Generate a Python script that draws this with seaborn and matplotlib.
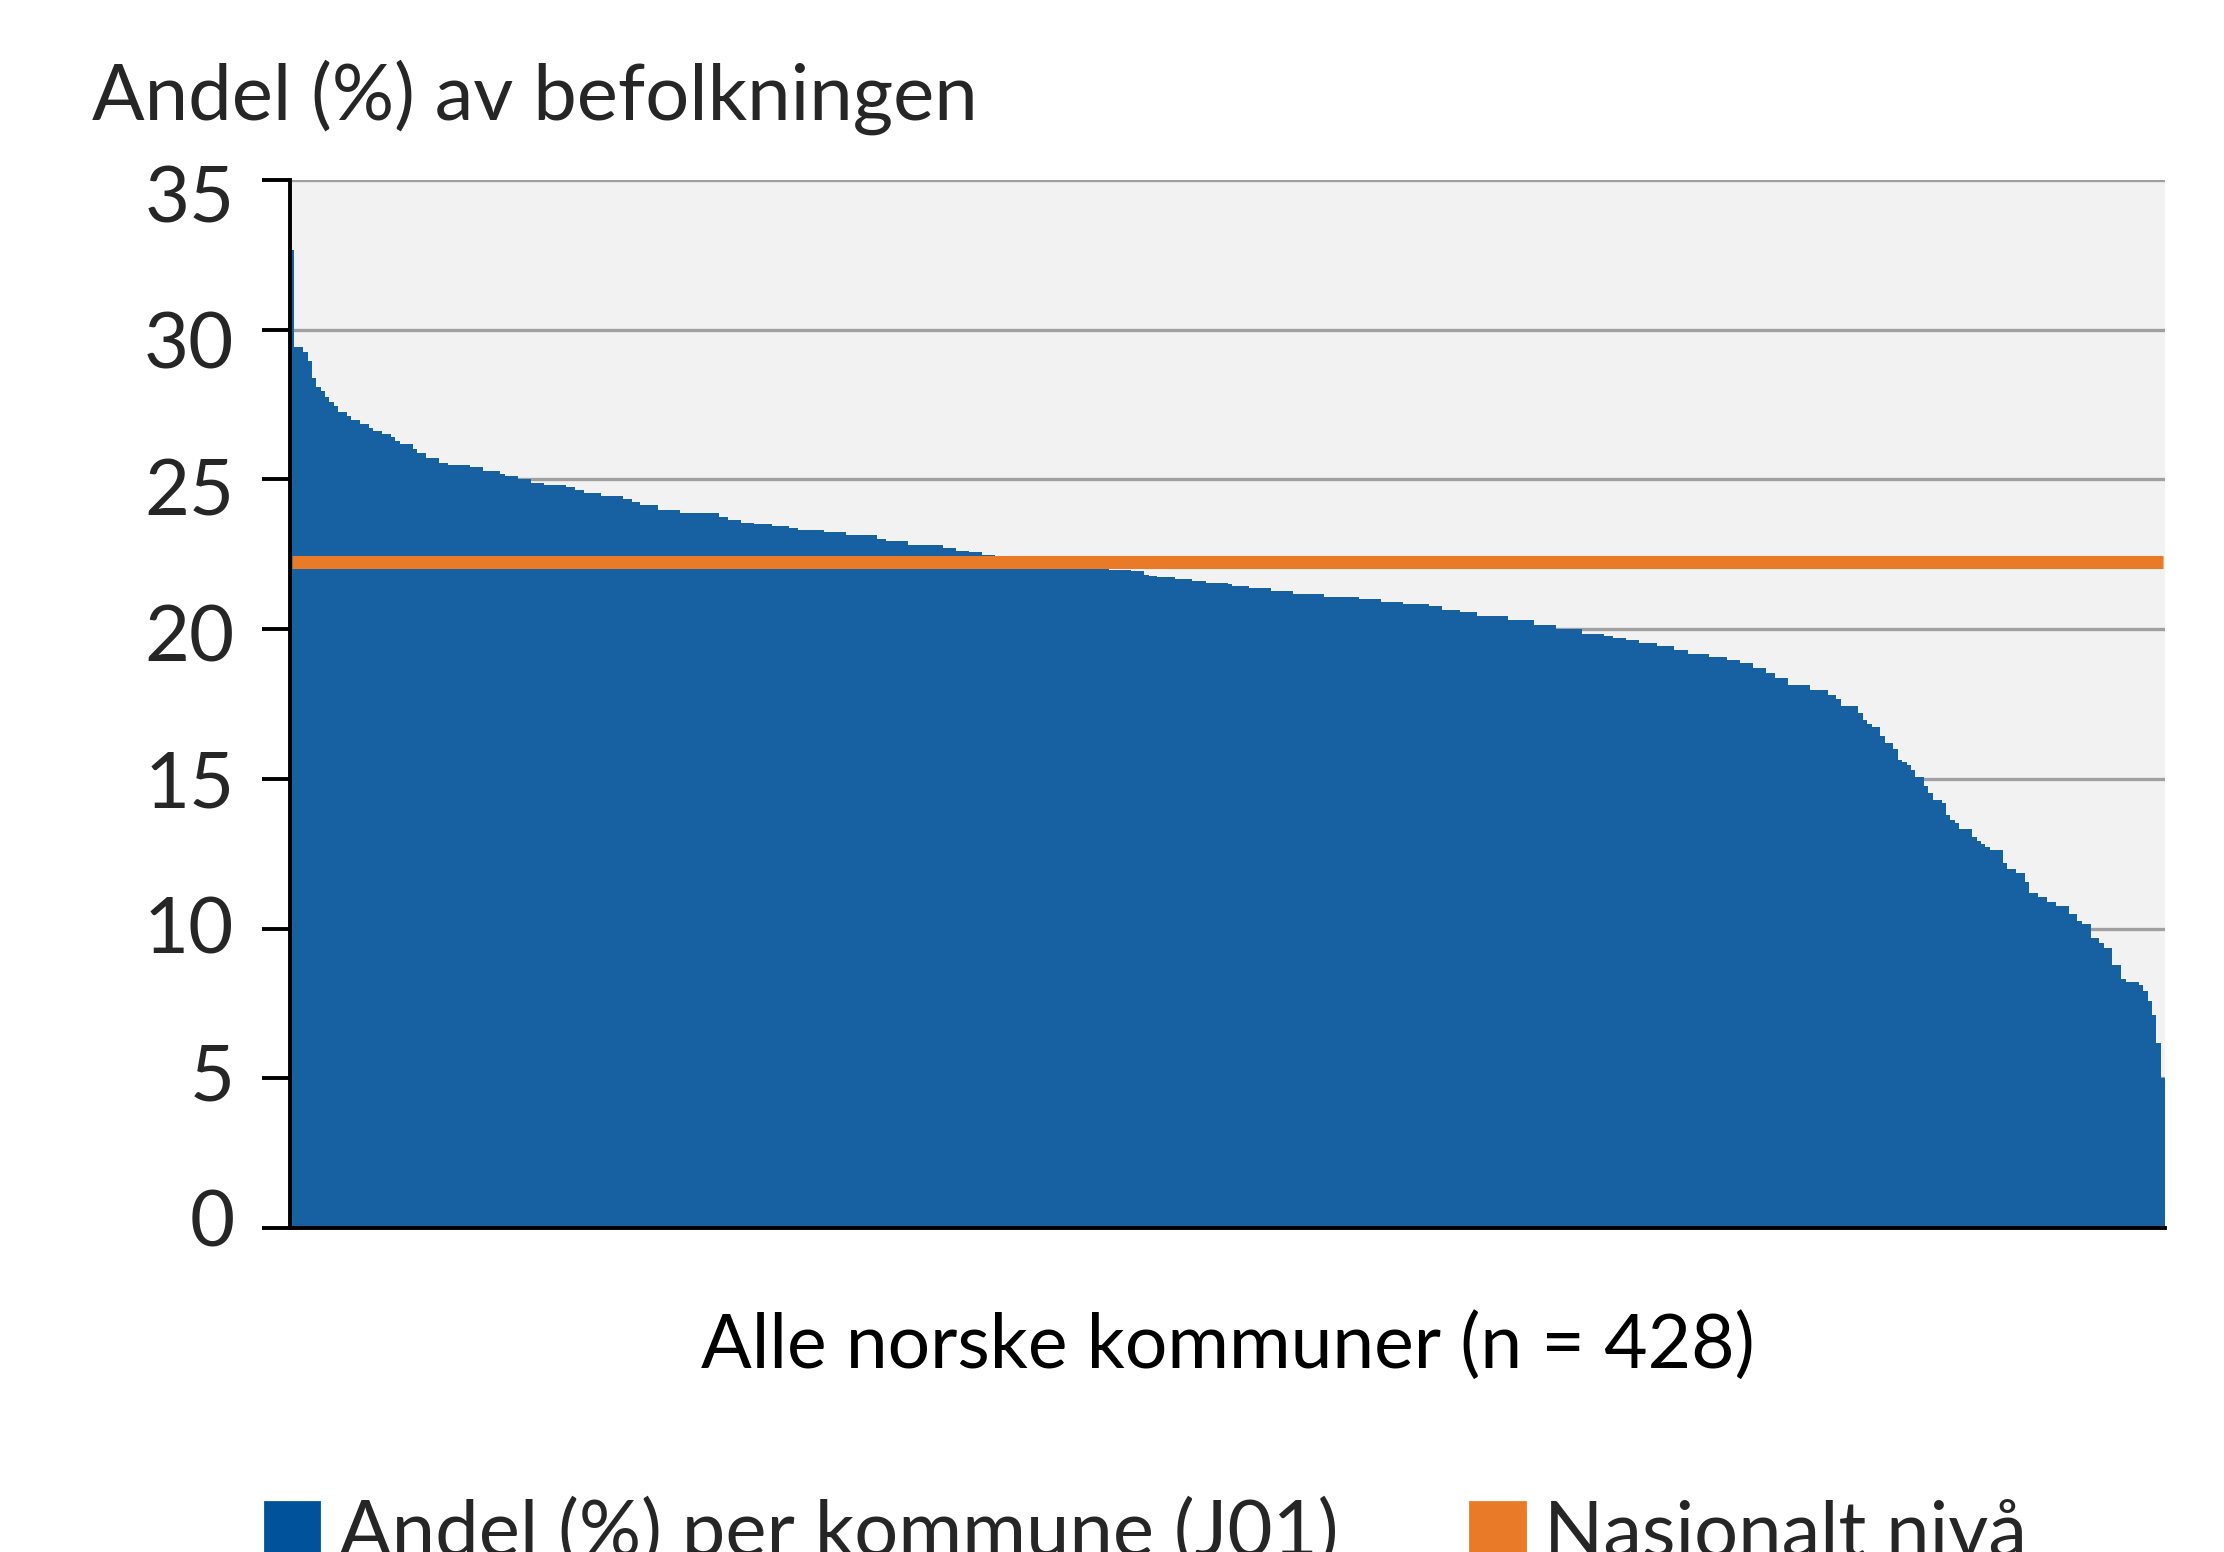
import numpy as np
import pandas as pd
import matplotlib.pyplot as plt
import seaborn as sns
from matplotlib.patches import Patch
from matplotlib.transforms import ScaledTranslation

# Andel (%) per kommune, sortert synkende (lest av figuren)
andel = [
    32.66, 29.43, 29.43, 29.25, 28.95, 28.40, 28.10, 27.97, 27.76, 27.58,
    27.45, 27.26, 27.26, 27.11, 27.00, 27.00, 26.86, 26.86, 26.72, 26.61,
    26.61, 26.53, 26.53, 26.41, 26.28, 26.19, 26.19, 26.19, 26.02, 25.87,
    25.87, 25.70, 25.70, 25.70, 25.56, 25.56, 25.49, 25.49, 25.49, 25.49,
    25.49, 25.42, 25.42, 25.42, 25.27, 25.27, 25.27, 25.27, 25.19, 25.11,
    25.11, 25.11, 25.00, 25.00, 25.00, 24.89, 24.89, 24.89, 24.81, 24.81,
    24.81, 24.81, 24.81, 24.74, 24.74, 24.66, 24.66, 24.55, 24.55, 24.55,
    24.55, 24.44, 24.44, 24.44, 24.44, 24.44, 24.35, 24.35, 24.24, 24.24,
    24.16, 24.16, 24.16, 24.16, 23.99, 23.99, 23.99, 23.99, 23.99, 23.88,
    23.88, 23.88, 23.88, 23.88, 23.88, 23.88, 23.88, 23.88, 23.75, 23.75,
    23.63, 23.63, 23.63, 23.55, 23.55, 23.55, 23.50, 23.50, 23.50, 23.50,
    23.46, 23.46, 23.46, 23.46, 23.38, 23.38, 23.31, 23.31, 23.31, 23.31,
    23.31, 23.31, 23.24, 23.24, 23.24, 23.24, 23.24, 23.14, 23.14, 23.14,
    23.14, 23.14, 23.14, 23.14, 23.02, 23.02, 22.93, 22.93, 22.93, 22.93,
    22.93, 22.80, 22.80, 22.80, 22.80, 22.80, 22.80, 22.80, 22.80, 22.71,
    22.71, 22.71, 22.62, 22.62, 22.62, 22.57, 22.57, 22.57, 22.49, 22.49,
    22.49, 22.45, 22.43, 22.41, 22.40, 22.38, 22.36, 22.34, 22.32, 22.31,
    22.29, 22.27, 22.25, 22.24, 22.22, 22.20, 22.19, 22.17, 22.15, 22.14,
    22.12, 22.10, 22.09, 22.07, 22.05, 22.04, 22.02, 21.99, 21.99, 21.99,
    21.99, 21.99, 21.93, 21.93, 21.93, 21.82, 21.79, 21.79, 21.73, 21.73,
    21.73, 21.73, 21.68, 21.68, 21.68, 21.68, 21.60, 21.60, 21.60, 21.54,
    21.54, 21.54, 21.54, 21.54, 21.51, 21.45, 21.45, 21.45, 21.45, 21.38,
    21.38, 21.38, 21.38, 21.38, 21.27, 21.27, 21.27, 21.27, 21.27, 21.18,
    21.18, 21.18, 21.18, 21.18, 21.18, 21.18, 21.06, 21.06, 21.06, 21.06,
    21.06, 21.06, 21.06, 21.06, 20.99, 20.99, 20.99, 20.99, 20.99, 20.90,
    20.90, 20.90, 20.90, 20.90, 20.84, 20.84, 20.84, 20.84, 20.84, 20.84,
    20.76, 20.76, 20.76, 20.64, 20.64, 20.64, 20.64, 20.58, 20.58, 20.58,
    20.58, 20.45, 20.45, 20.45, 20.45, 20.45, 20.45, 20.45, 20.32, 20.32,
    20.32, 20.32, 20.32, 20.32, 20.15, 20.15, 20.15, 20.15, 20.15, 20.01,
    20.01, 20.01, 20.01, 20.01, 20.01, 19.85, 19.85, 19.85, 19.85, 19.85,
    19.78, 19.78, 19.70, 19.70, 19.70, 19.63, 19.63, 19.63, 19.54, 19.54,
    19.54, 19.54, 19.43, 19.43, 19.43, 19.43, 19.29, 19.29, 19.29, 19.18,
    19.18, 19.18, 19.18, 19.18, 19.07, 19.07, 19.07, 19.07, 18.96, 18.96,
    18.96, 18.87, 18.87, 18.87, 18.70, 18.70, 18.70, 18.53, 18.53, 18.37,
    18.37, 18.37, 18.15, 18.15, 18.15, 18.15, 18.15, 17.98, 17.98, 17.98,
    17.98, 17.81, 17.81, 17.67, 17.42, 17.42, 17.42, 17.42, 17.20, 16.98,
    16.84, 16.72, 16.72, 16.42, 16.20, 16.20, 16.00, 15.64, 15.56, 15.45,
    15.28, 15.06, 15.06, 14.75, 14.52, 14.28, 14.28, 14.19, 13.80, 13.61,
    13.54, 13.32, 13.32, 13.32, 13.07, 12.94, 12.83, 12.72, 12.61, 12.61,
    12.61, 12.19, 12.00, 12.00, 11.85, 11.85, 11.54, 11.20, 11.20, 11.05,
    11.05, 10.87, 10.87, 10.76, 10.76, 10.76, 10.48, 10.48, 10.26, 10.16,
    10.16, 9.68, 9.68, 9.53, 9.34, 9.34, 8.79, 8.79, 8.31, 8.20,
    8.20, 8.20, 8.12, 7.93, 7.58, 7.12, 6.17, 5.00,
]
nasjonalt = 22.23
y_ticks = [0, 5, 10, 15, 20, 25, 30, 35]

y_tittel = "Andel (%) av befolkningen"
x_tittel = "Alle norske kommuner (n = 428)"
etiketter = ["Andel (%) per kommune (J01)", "Nasjonalt nivå"]

blaa = "#1761A2"
blaa_legend = "#00539B"
oransje = "#E87A28"

df = pd.DataFrame({"kommune": np.arange(len(andel)), "andel": andel})
df["nasjonalt"] = nasjonalt

sns.set_theme(style="white")
plt.rcParams['font.family'] = ['Lato', 'DejaVu Sans']

fig = plt.figure(figsize=(11.12, 7.76), dpi=200)
ax = fig.add_axes([0.1304, 0.2088, 0.8431, 0.6752])
ax.set_facecolor("#F2F2F2")

# Stolper per kommune
sns.barplot(data=df, x="kommune", y="andel", color=blaa, saturation=1,
            width=1, linewidth=0, errorbar=None, ax=ax)

# Nasjonalt nivå som linje
sns.lineplot(data=df, x="kommune", y="nasjonalt", color=oransje,
             linewidth=4.7, solid_capstyle="butt", ax=ax, legend=False)

ax.set_xlim(-0.5, len(andel) - 0.5)
ax.set_ylim(0, 35)
ax.set_yticks(y_ticks)
ax.set_xticks([])
ax.yaxis.grid(True, color="#A0A0A0", linewidth=1.2)
ax.set_axisbelow(True)

for s in ["top", "right"]:
    ax.spines[s].set_visible(False)
for s in ["left", "bottom"]:
    ax.spines[s].set_color("black")
    ax.spines[s].set_linewidth(1.4)

ax.tick_params(axis="y", length=10, width=1.4, pad=10, labelsize=28,
               color="black", left=True)

# tallene på y-aksen sitter litt forskjøvet i originalen (lavere øverst)
for lab, v in zip(ax.get_yticklabels(), y_ticks):
    dy = (10 - 24 * v / 35) / 200
    lab.set_transform(lab.get_transform() + ScaledTranslation(0, dy, fig.dpi_scale_trans))

ax.set_ylabel("")
ax.set_xlabel(x_tittel, fontsize=27, labelpad=30, color="black")

fig.text(0.0414, 1 - 120 / 1552, y_tittel, fontsize=28, va="baseline", ha="left")

handles = [Patch(color=blaa_legend), Patch(color=oransje)]
fig.legend(handles, etiketter, loc="upper left", bbox_to_anchor=(0.119, 1 - 1496 / 1552),
           ncol=2, frameon=False, fontsize=28, handlelength=0.7, handleheight=0.7,
           handletextpad=0.25, columnspacing=1.7, borderpad=0, borderaxespad=0)

fig.savefig("out.png", dpi=200)
